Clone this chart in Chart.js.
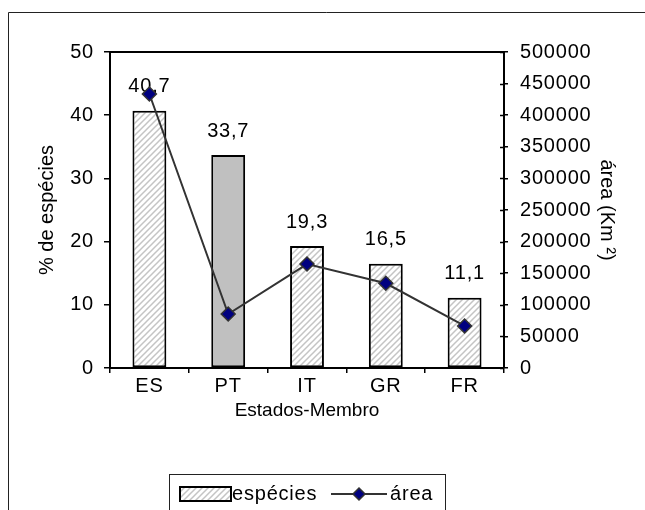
<!DOCTYPE html>
<html>
<head>
<meta charset="utf-8">
<script src="https://cdn.jsdelivr.net/npm/chart.js@4/dist/chart.umd.min.js"></script>
<style>
  html, body { margin: 0; padding: 0; background: #fff; }
  #wrap { width: 645px; height: 510px; position: relative; }
</style>
</head>
<body>
<div id="wrap"><canvas id="c" width="645" height="510"></canvas></div>
<script>
// Estados-Membro and their values
const categories = ['ES', 'PT', 'IT', 'GR', 'FR'];
const especies = [40.7, 33.7, 19.3, 16.5, 11.1];      // % de espécies
const area = [433500, 85400, 164500, 134000, 66500];  // área (Km²)
const leftTicks = [0, 10, 20, 30, 40, 50];
const rightTicks = [0, 50000, 100000, 150000, 200000, 250000, 300000, 350000, 400000, 450000, 500000];

const FONT = 'Liberation Sans, Arial, sans-serif';
const fontSpec = { family: FONT, size: 20, lineHeight: 1.2 };
const titleFont = { family: FONT, size: 19, lineHeight: 1.2 };
const SPACING = '0.8px';

// axis titles are drawn without the extra letter spacing
function plainTitle(s) {
  if (s._plainTitle) return;
  const orig = s.drawTitle;
  s.drawTitle = function () {
    const c = this.ctx, prev = c.letterSpacing;
    c.letterSpacing = '0px';
    orig.call(this);
    c.letterSpacing = prev;
  };
  s._plainTitle = true;
}

// light diagonal hatch used for the bars
function makeHatch() {
  const s = 6;
  const cv = document.createElement('canvas');
  cv.width = s; cv.height = s;
  const g = cv.getContext('2d');
  g.fillStyle = '#ffffff';
  g.fillRect(0, 0, s, s);
  g.strokeStyle = '#c4c4c4';
  g.lineWidth = 1.5;
  g.beginPath();
  g.moveTo(-1, s + 1); g.lineTo(s + 1, -1);
  g.moveTo(-1, 1); g.lineTo(1, -1);
  g.moveTo(s - 1, s + 1); g.lineTo(s + 1, s - 1);
  g.stroke();
  return g.createPattern(cv, 'repeat');
}
const hatch = makeHatch();
const barFills = categories.map((c, i) => i === 1 ? '#c0c0c0' : hatch);

// outer frame, plot box and the inner half of the right-axis ticks
const framePlugin = {
  id: 'frame',
  beforeDraw(chart) {
    const ctx = chart.ctx;
    ctx.letterSpacing = SPACING;
    ctx.save();
    ctx.fillStyle = '#fff';
    ctx.fillRect(0, 0, chart.width, chart.height);
    ctx.strokeStyle = '#222';
    ctx.lineWidth = 1;
    ctx.beginPath();
    ctx.moveTo(8.5, chart.height);
    ctx.lineTo(8.5, 12.5);
    ctx.lineTo(chart.width, 12.5);
    ctx.stroke();
    ctx.restore();
  },
  afterDraw(chart) {
    const a = chart.chartArea;
    const ctx = chart.ctx;
    const s = chart.scales.y2;
    ctx.save();
    ctx.strokeStyle = '#000';
    ctx.lineWidth = 2;
    ctx.beginPath();
    ctx.moveTo(a.left, a.top);
    ctx.lineTo(a.right, a.top);
    ctx.stroke();
    ctx.lineWidth = 1.5;
    ctx.beginPath();
    rightTicks.forEach(v => {
      const y = Math.round(s.getPixelForValue(v)) + 0.5;
      ctx.moveTo(a.right - 4, y);
      ctx.lineTo(a.right, y);
    });
    ctx.stroke();
    ctx.restore();
  }
};

// value labels above the bars (drawn before the line so the markers sit on top)
const barLabels = {
  id: 'barLabels',
  afterDatasetDraw(chart, args) {
    if (args.index !== 0) return;
    const ctx = chart.ctx;
    const meta = chart.getDatasetMeta(0);
    ctx.save();
    ctx.font = '20px ' + FONT;
    ctx.fillStyle = '#000';
    ctx.textAlign = 'center';
    ctx.textBaseline = 'middle';
    meta.data.forEach((bar, i) => {
      const txt = especies[i].toFixed(1).replace('.', ',');
      ctx.fillText(txt, bar.x, bar.y - 24);
    });
    ctx.restore();
  }
};

// legend box at the bottom
const legendBox = {
  id: 'legendBox',
  afterDraw(chart) {
    const ctx = chart.ctx;
    const ds0 = chart.data.datasets[0];
    const ds1 = chart.data.datasets[1];
    ctx.save();
    ctx.strokeStyle = '#222';
    ctx.lineWidth = 1;
    ctx.strokeRect(169.5, 474.5, 276, 60);
    // bar swatch
    ctx.fillStyle = hatch;
    ctx.fillRect(180, 487, 51, 14);
    ctx.strokeStyle = '#000';
    ctx.lineWidth = 2;
    ctx.strokeRect(180, 487, 51, 14);
    ctx.font = '20px ' + FONT;
    ctx.fillStyle = '#000';
    ctx.textBaseline = 'middle';
    ctx.textAlign = 'left';
    ctx.fillText(ds0.label, 232, 494);
    // line swatch
    ctx.strokeStyle = ds1.borderColor;
    ctx.lineWidth = 2;
    ctx.beginPath();
    ctx.moveTo(331, 494);
    ctx.lineTo(387, 494);
    ctx.stroke();
    ctx.beginPath();
    ctx.moveTo(359, 488); ctx.lineTo(365, 494); ctx.lineTo(359, 500); ctx.lineTo(353, 494); ctx.closePath();
    ctx.fillStyle = ds1.pointBackgroundColor;
    ctx.fill();
    ctx.strokeStyle = ds1.pointBorderColor;
    ctx.lineWidth = 1.5;
    ctx.stroke();
    ctx.fillStyle = '#000';
    ctx.fillText(ds1.label, 390, 494);
    ctx.restore();
  }
};

new Chart(document.getElementById('c'), {
  data: {
    labels: categories,
    datasets: [
      {
        type: 'bar',
        label: 'espécies',
        data: especies,
        yAxisID: 'y',
        backgroundColor: barFills,
        borderColor: '#000',
        borderWidth: 2,
        borderSkipped: false,
        barPercentage: 0.43,
        categoryPercentage: 1,
        order: 2
      },
      {
        type: 'line',
        label: 'área',
        data: area,
        yAxisID: 'y2',
        borderColor: '#333',
        borderWidth: 2,
        pointStyle: 'rectRot',
        pointRadius: 7,
        pointBackgroundColor: '#000080',
        pointBorderColor: '#333',
        pointBorderWidth: 1.5,
        tension: 0,
        order: 1
      }
    ]
  },
  options: {
    responsive: false,
    animation: false,
    devicePixelRatio: 1,
    layout: { padding: { top: 52, left: 0, right: 0, bottom: 0 } },
    plugins: { legend: { display: false }, tooltip: { enabled: false } },
    scales: {
      x: {
        offset: true,
        grid: { offset: true, drawOnChartArea: false, tickLength: 5, color: '#000', lineWidth: 1.5 },
        border: { color: '#000', width: 2 },
        ticks: { color: '#000', font: fontSpec, padding: 1, maxRotation: 0 },
        title: { display: true, text: 'Estados-Membro', color: '#000', font: titleFont, padding: { top: 0, bottom: 88 } },
        afterFit(s) { s.height = 142; plainTitle(s); }
      },
      y: {
        position: 'left',
        min: 0, max: 50,
        afterBuildTicks(s) { s.ticks = leftTicks.map(v => ({ value: v })); },
        grid: { drawOnChartArea: false, tickLength: 6, color: '#000', lineWidth: 1.5 },
        border: { color: '#000', width: 2 },
        ticks: { color: '#000', font: fontSpec, padding: 10 },
        title: { display: true, text: '% de espécies', color: '#000', font: fontSpec, padding: { top: 35, bottom: 0 } },
        afterFit(s) { s.width = 110; plainTitle(s); }
      },
      y2: {
        position: 'right',
        min: 0, max: 500000,
        afterBuildTicks(s) { s.ticks = rightTicks.map(v => ({ value: v })); },
        grid: { drawOnChartArea: false, tickLength: 4, color: '#000', lineWidth: 1.5 },
        border: { color: '#000', width: 2 },
        ticks: { color: '#000', font: fontSpec, padding: 12, callback: v => String(v) },
        title: { display: true, text: 'área (Km ²)', color: '#000', font: fontSpec, padding: { top: 26, bottom: 0 } },
        afterFit(s) { s.width = 141; plainTitle(s); }
      }
    }
  },
  plugins: [framePlugin, barLabels, legendBox]
});
</script>
</body>
</html>
